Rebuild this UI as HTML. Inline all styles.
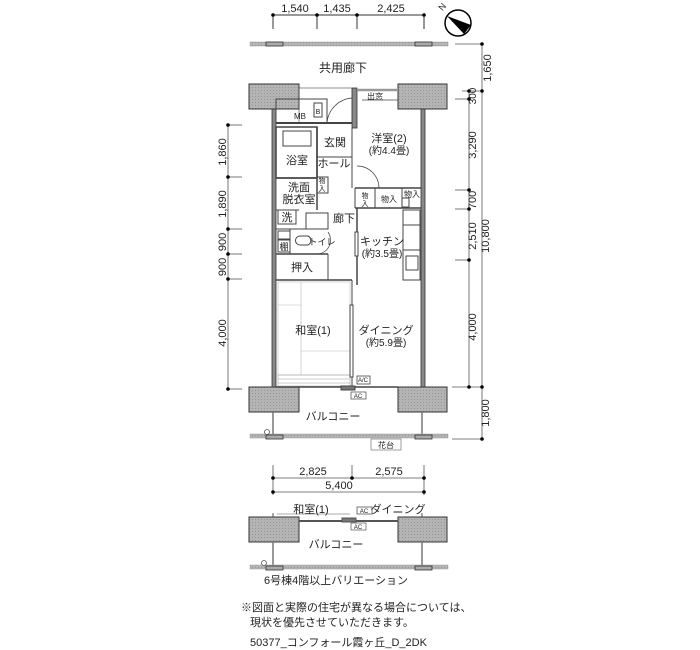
<!DOCTYPE html>
<html><head><meta charset="utf-8"><style>
html,body{margin:0;padding:0;background:#fff;}
svg{display:block;}
text{font-family:"Liberation Sans","Noto Sans CJK JP",sans-serif;fill:#222;}
</style></head><body>
<svg width="700" height="650" viewBox="0 0 700 650" xmlns="http://www.w3.org/2000/svg">
<defs>
<pattern id="hp" width="3" height="3" patternUnits="userSpaceOnUse"><rect width="3" height="3" fill="#b4b4b4"/><rect width="1" height="1" fill="#959595"/></pattern>
</defs>
<!-- top dims -->
<g stroke="#333" stroke-width="1">
<line x1="273" y1="15" x2="424" y2="15"/>
<line x1="273" y1="15" x2="273" y2="29"/><line x1="317" y1="15" x2="317" y2="29"/><line x1="357" y1="15" x2="357" y2="29"/><line x1="424" y1="15" x2="424" y2="29"/>
</g>
<g fill="#000"><circle cx="273" cy="15" r="1.8"/><circle cx="317" cy="15" r="1.8"/><circle cx="357" cy="15" r="1.8"/><circle cx="424" cy="15" r="1.8"/></g>
<g font-size="11" text-anchor="middle"><text x="295" y="12">1,540</text><text x="337" y="12">1,435</text><text x="391" y="12">2,425</text></g>
<!-- compass -->
<circle cx="458" cy="23" r="13" fill="#fff" stroke="#000" stroke-width="1.5"/>
<path d="M447,16 L471,25 L464,34 Z" fill="#000"/>
<text x="441" y="12" font-size="9" transform="rotate(-50 441 10)">N</text>
<!-- corridor -->
<rect x="250" y="42" width="198" height="4" fill="url(#hp)" stroke="#999" stroke-width="0.5"/>
<rect x="266" y="42" width="17" height="4" fill="#aaa" stroke="#333" stroke-width="0.8"/>
<rect x="415" y="42" width="17" height="4" fill="#aaa" stroke="#333" stroke-width="0.8"/>
<text x="343" y="72" font-size="12" text-anchor="middle">共用廊下</text>
<!-- right dims -->
<g stroke="#555" stroke-width="0.8">
<line x1="469" y1="91" x2="469" y2="387"/>
<line x1="482" y1="44" x2="482" y2="439"/>
<line x1="455" y1="44" x2="482" y2="44"/>
<line x1="455" y1="99" x2="469" y2="99"/><line x1="455" y1="190" x2="469" y2="190"/><line x1="455" y1="209" x2="469" y2="209"/><line x1="455" y1="260" x2="469" y2="260"/>
<line x1="452" y1="387" x2="482" y2="387"/><line x1="452" y1="439" x2="482" y2="439"/><line x1="462" y1="91" x2="482" y2="91"/>
</g>
<g fill="#000"><circle cx="482" cy="44" r="1.8"/><circle cx="482" cy="91" r="1.8"/><circle cx="469" cy="91" r="1.8"/><circle cx="469" cy="99" r="1.8"/><circle cx="469" cy="190" r="1.8"/><circle cx="469" cy="209" r="1.8"/><circle cx="469" cy="260" r="1.8"/><circle cx="469" cy="387" r="1.8"/><circle cx="482" cy="387" r="1.8"/><circle cx="482" cy="439" r="1.8"/></g>
<g font-size="11" text-anchor="middle">
<text transform="translate(491 68) rotate(-90)">1,650</text>
<text transform="translate(476 96) rotate(-90)" font-size="10">300</text>
<text transform="translate(476 145) rotate(-90)">3,290</text>
<text transform="translate(476 200) rotate(-90)">700</text>
<text transform="translate(476 236) rotate(-90)">2,510</text>
<text transform="translate(489 236) rotate(-90)">10,800</text>
<text transform="translate(476 327) rotate(-90)">4,000</text>
<text transform="translate(489 413) rotate(-90)">1,800</text>
</g>
<!-- left dims -->
<g stroke="#555" stroke-width="0.8">
<line x1="228" y1="125" x2="228" y2="389"/>
<line x1="228" y1="125" x2="242" y2="125"/><line x1="228" y1="177" x2="242" y2="177"/><line x1="228" y1="229" x2="242" y2="229"/><line x1="228" y1="254" x2="242" y2="254"/><line x1="228" y1="279" x2="242" y2="279"/><line x1="228" y1="389" x2="242" y2="389"/>
</g>
<g fill="#000"><circle cx="228" cy="125" r="1.8"/><circle cx="228" cy="177" r="1.8"/><circle cx="228" cy="229" r="1.8"/><circle cx="228" cy="254" r="1.8"/><circle cx="228" cy="279" r="1.8"/><circle cx="228" cy="389" r="1.8"/></g>
<g font-size="11" text-anchor="middle">
<text transform="translate(226 152) rotate(-90)">1,860</text>
<text transform="translate(226 204) rotate(-90)">1,890</text>
<text transform="translate(226 242) rotate(-90)">900</text>
<text transform="translate(226 267) rotate(-90)">900</text>
<text transform="translate(226 333) rotate(-90)">4,000</text>
</g>
<!-- pillars -->
<g fill="url(#hp)" stroke="#333" stroke-width="1">
<rect x="249" y="84" width="50" height="25"/><rect x="398" y="84" width="49" height="25"/>
<rect x="249" y="387" width="50" height="25"/><rect x="398" y="387" width="49" height="25"/>
</g>
<!-- walls -->
<g fill="#888" stroke="#333" stroke-width="0.8">
<rect x="272" y="109" width="4" height="278"/>
<rect x="421" y="109" width="4" height="278"/>
<rect x="352" y="88" width="5" height="40"/>
</g>
<g fill="none" stroke="#444" stroke-width="1">
<rect x="299" y="88" width="53" height="35" stroke-width="0.6"/>
<line x1="276" y1="123" x2="352" y2="123" stroke-width="2"/>
<rect x="276" y="99" width="51" height="24"/>
<rect x="314" y="103" width="8" height="14"/>
<path d="M327,123 A27,27 0 0 1 352,98" stroke-width="0.7"/>
<line x1="357" y1="90" x2="398" y2="90" stroke-width="2.5" stroke="#999"/>
<line x1="362" y1="100" x2="398" y2="100" stroke-width="0.7"/>
<rect x="276" y="127" width="41" height="51" stroke-width="1.5"/>
<rect x="283" y="131" width="28" height="15"/>
<line x1="317" y1="127" x2="317" y2="210" stroke-width="1.5"/>
<line x1="317" y1="157" x2="352" y2="157"/>
<line x1="352" y1="128" x2="352" y2="188"/>
<path d="M357,166 A22,22 0 0 1 379,188" stroke-width="0.7"/>
<line x1="276" y1="178" x2="317" y2="178" stroke-width="1.5"/>
<rect x="317" y="177" width="11" height="16"/>
<line x1="355" y1="188" x2="421" y2="188" stroke-width="1.5"/>
<line x1="355" y1="208" x2="421" y2="208" stroke-width="1.5"/>
<line x1="355" y1="188" x2="355" y2="208"/>
<line x1="375" y1="188" x2="375" y2="208"/>
<line x1="402" y1="188" x2="402" y2="208"/>
<rect x="402" y="198" width="7" height="9"/>
<rect x="278" y="210" width="18" height="14"/>
<line x1="276" y1="210" x2="299" y2="210"/>
<rect x="306" y="213" width="22" height="16"/>
<line x1="357" y1="208" x2="357" y2="285" stroke-width="1.5"/>
<rect x="355" y="232" width="3" height="24" fill="#fff"/>
<rect x="403" y="210" width="17" height="70"/>
<line x1="403" y1="225" x2="420" y2="225"/>
<line x1="403" y1="250" x2="420" y2="250"/>
<rect x="406" y="256" width="12" height="14"/>
<line x1="276" y1="229" x2="328" y2="229"/>
<rect x="278" y="231" width="12" height="8"/>
<rect x="278" y="240" width="12" height="12"/>
<line x1="290" y1="229" x2="290" y2="254"/>
<path d="M300,236 h8 a5,5 0 0 1 0,9 h-8 a4,4 0 0 1 0,-9 Z"/>
<path d="M328,232 A14,14 0 0 1 318,254" stroke-width="0.7"/>
<line x1="276" y1="254" x2="328" y2="254" stroke-width="1.5"/>
<line x1="328" y1="254" x2="328" y2="280"/>
<line x1="276" y1="280" x2="352" y2="280" stroke-width="1.5"/>
<line x1="352" y1="280" x2="352" y2="387"/>
<rect x="278" y="282" width="72" height="93" stroke="#bbb" stroke-width="0.6"/>
<line x1="301" y1="282" x2="301" y2="375" stroke="#bbb" stroke-width="0.6"/>
<line x1="278" y1="305" x2="301" y2="305" stroke="#bbb" stroke-width="0.6"/>
<line x1="301" y1="351" x2="350" y2="351" stroke="#bbb" stroke-width="0.6"/>
<rect x="278" y="375" width="72" height="11" stroke="#999" stroke-width="0.5"/>
<line x1="278" y1="379" x2="350" y2="379" stroke="#999" stroke-width="0.5"/>
<line x1="278" y1="383" x2="350" y2="383" stroke="#999" stroke-width="0.5"/>
<rect x="350" y="305" width="3" height="72" fill="#fff"/>
<line x1="276" y1="387" x2="398" y2="387" stroke-width="1.5"/>
<rect x="341" y="386" width="14" height="4" fill="#777"/>
<rect x="357" y="376" width="13" height="8" stroke-width="0.8"/>
<rect x="351" y="392" width="15" height="7" stroke-width="0.7"/>
</g>
<g font-size="11" text-anchor="middle">
<text x="300" y="119" font-size="8">MB</text>
<text x="318" y="114" font-size="7">B</text>
<text x="375" y="99" font-size="8">出窓</text>
<text x="335" y="146" font-size="11">玄関</text>
<text x="297" y="164" font-size="11">浴室</text>
<text x="334" y="167" font-size="11">ホール</text>
<text x="389" y="142" font-size="11">洋室(2)</text>
<text x="389" y="154" font-size="10">(約4.4畳)</text>
<text x="299" y="191" font-size="11">洗面</text>
<text x="299" y="203" font-size="11">脱衣室</text>
<text x="322" y="183" font-size="7">物</text><text x="322" y="191" font-size="7">入</text>
<text x="365" y="198" font-size="7">物</text><text x="365" y="206" font-size="7">入</text>
<text x="389" y="202" font-size="8">物入</text>
<text x="412" y="197" font-size="8">物入</text>
<text x="287" y="221" font-size="11">洗</text>
<text x="344" y="222" font-size="11">廊下</text>
<text x="284" y="250" font-size="9">棚</text>
<text x="322" y="245" font-size="9">トイレ</text>
<text x="302" y="271" font-size="11">押入</text>
<text x="382" y="245" font-size="11">キッチン</text>
<text x="382" y="257" font-size="10">(約3.5畳)</text>
<text x="313" y="334" font-size="11">和室(1)</text>
<text x="386" y="334" font-size="11">ダイニング</text>
<text x="386" y="346" font-size="10">(約5.9畳)</text>
<text x="363" y="382" font-size="6">A/C</text>
<text x="358" y="398" font-size="6">AC</text>
<text x="333" y="420" font-size="11">バルコニー</text>
</g>
<!-- balcony -->
<g stroke="#777" stroke-width="1.5"><line x1="273" y1="412" x2="273" y2="436"/><line x1="422" y1="412" x2="422" y2="436"/></g>
<rect x="250" y="434" width="198" height="4" fill="url(#hp)" stroke="#999" stroke-width="0.5"/>
<rect x="266" y="435" width="17" height="4" fill="#aaa" stroke="#333" stroke-width="0.8"/>
<rect x="415" y="435" width="17" height="4" fill="#aaa" stroke="#333" stroke-width="0.8"/>
<circle cx="267" cy="432" r="2.5" fill="#fff" stroke="#555" stroke-width="0.8"/>
<rect x="371" y="439" width="30" height="11" fill="#fff" stroke="#888" stroke-width="0.8"/>
<text x="386" y="448" font-size="8" text-anchor="middle">花台</text>
<!-- variation dims -->
<g stroke="#555" stroke-width="0.8">
<line x1="273" y1="478" x2="424" y2="478"/><line x1="273" y1="492" x2="424" y2="492"/>
<line x1="273" y1="465" x2="273" y2="495"/><line x1="352" y1="465" x2="352" y2="478"/><line x1="424" y1="465" x2="424" y2="495"/>
</g>
<g fill="#000"><circle cx="273" cy="478" r="1.8"/><circle cx="352" cy="478" r="1.8"/><circle cx="424" cy="478" r="1.8"/><circle cx="273" cy="492" r="1.8"/><circle cx="424" cy="492" r="1.8"/></g>
<g font-size="11" text-anchor="middle"><text x="313" y="475">2,825</text><text x="389" y="475">2,575</text><text x="339" y="489">5,400</text></g>
<!-- variation plan -->
<g fill="url(#hp)" stroke="#333" stroke-width="1"><rect x="249" y="517" width="50" height="25"/><rect x="398" y="517" width="49" height="25"/></g>
<g stroke="#555" fill="none" stroke-width="1">
<line x1="273" y1="513" x2="273" y2="517"/><line x1="422" y1="513" x2="422" y2="517"/>
<line x1="277" y1="514" x2="350" y2="514" stroke-width="0.6"/>
<line x1="299" y1="521" x2="398" y2="521" stroke-width="2"/>
<rect x="342" y="518" width="14" height="4" fill="#777"/>
<rect x="357" y="507" width="15" height="7" stroke-width="0.8"/>
<rect x="351" y="523" width="15" height="7" stroke-width="0.7"/>
</g>
<g font-size="11" text-anchor="middle">
<text x="311" y="513">和室(1)</text>
<text x="398" y="513">ダイニング</text>
<text x="364" y="513" font-size="6">AC</text>
<text x="358" y="529" font-size="6">AC</text>
<text x="336" y="548">バルコニー</text>
</g>
<g stroke="#777" stroke-width="1.5"><line x1="273" y1="542" x2="273" y2="566"/><line x1="422" y1="542" x2="422" y2="566"/></g>
<rect x="250" y="565" width="198" height="4" fill="url(#hp)" stroke="#999" stroke-width="0.5"/>
<rect x="266" y="566" width="17" height="4" fill="#aaa" stroke="#333" stroke-width="0.8"/>
<rect x="415" y="566" width="17" height="4" fill="#aaa" stroke="#333" stroke-width="0.8"/>
<circle cx="264" cy="563" r="2.5" fill="#fff" stroke="#555" stroke-width="0.8"/>
<text x="336" y="584" font-size="11" text-anchor="middle">6号棟4階以上バリエーション</text>
<!-- notes -->
<text x="241" y="611" font-size="11">※図面と実際の住宅が異なる場合については、</text>
<text x="250" y="626" font-size="11">現状を優先させていただきます。</text>
<text x="250" y="646" font-size="11">50377_コンフォール霞ヶ丘_D_2DK</text>
</svg>
</body></html>
